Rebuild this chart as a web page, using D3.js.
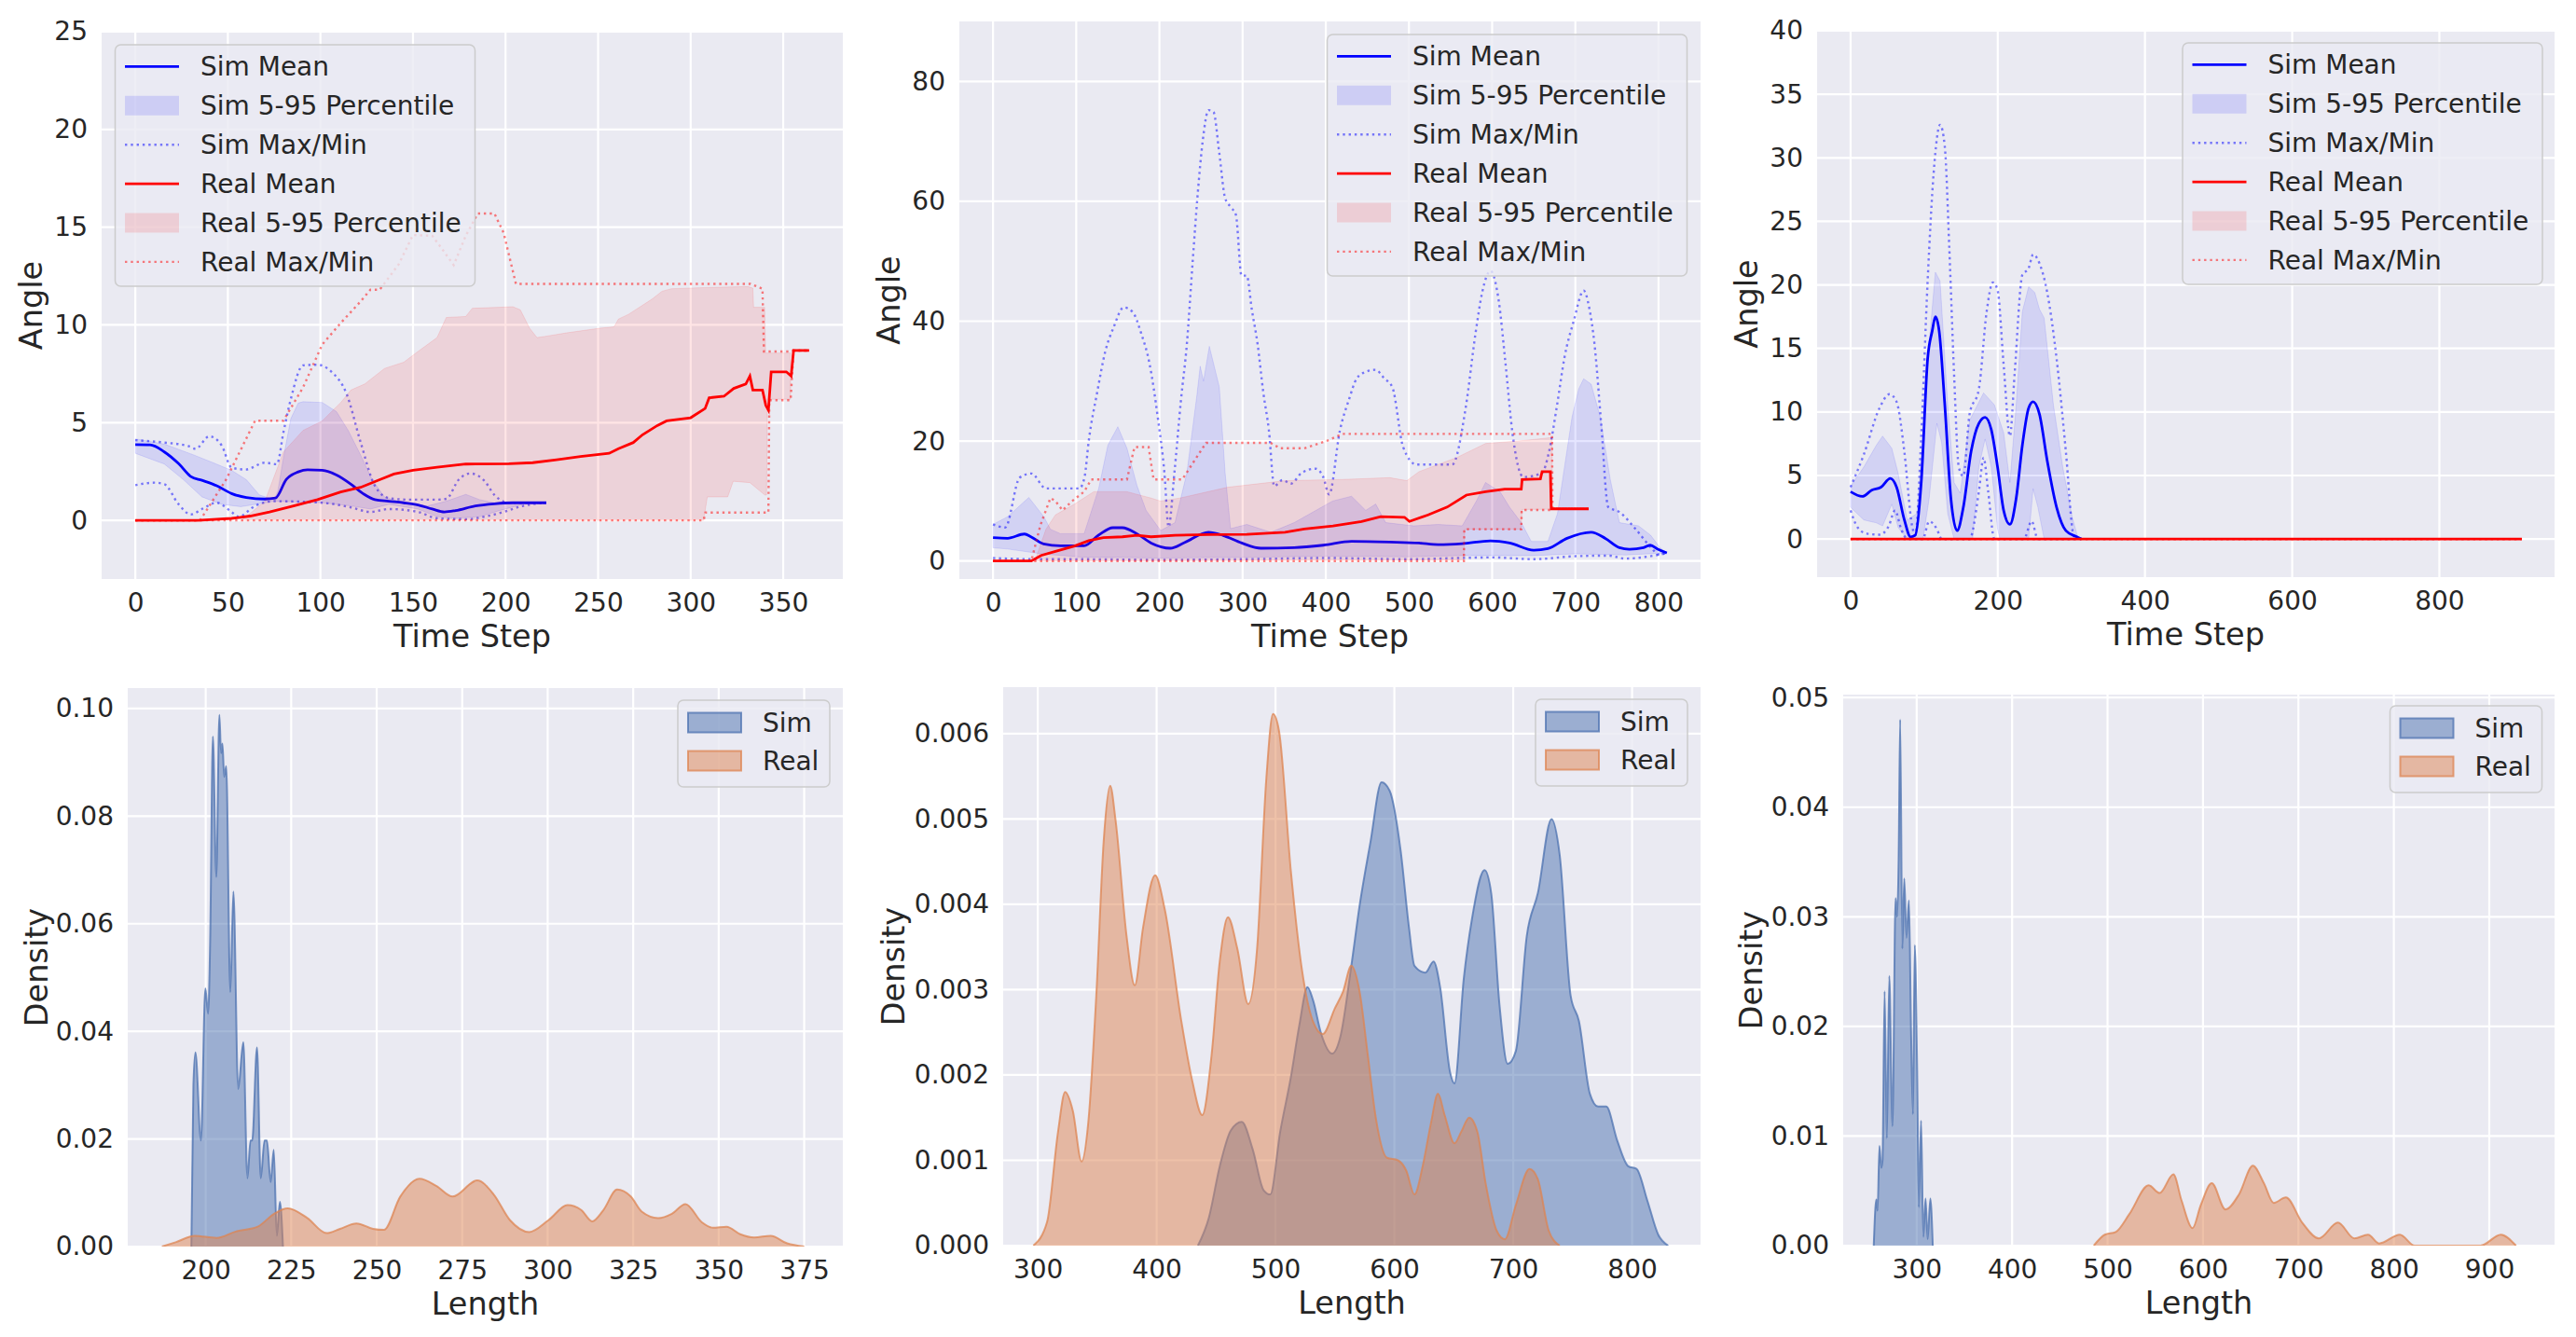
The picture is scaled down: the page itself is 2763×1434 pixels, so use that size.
<!DOCTYPE html>
<html><head><meta charset="utf-8">
<script src="https://cdn.jsdelivr.net/npm/d3@7"></script>
<style>
body{margin:0;background:#fff}
svg{display:block}
text{font-family:"DejaVu Sans",sans-serif;fill:#262626}
</style>
</head><body>
<svg id="c" width="2763" height="1434"></svg>
<script>
// ===================== DATA =====================
// --- Panel 1 (Angle vs Time Step) ---
const p1SimMean = [[0,3.87],[8,3.86],[15.7,3.5],[23.4,2.9],[30,2.24],[36,2.05],[44,1.77],[52,1.37],[60,1.17],[70,1.09],[75.7,1.14],[81.6,2.1],[88,2.48],[93,2.59],[101,2.56],[108.7,2.32],[116.5,1.85],[123,1.37],[129.4,1.06],[137,0.98],[145,0.9],[152.7,0.79],[160.4,0.58],[167,0.43],[173,0.5],[183.7,0.74],[194,0.85],[204,0.9],[222,0.9]];
const p1SimUpper = [[0,4.17],[15.7,3.9],[31.5,3.35],[42,2.95],[52,2.56],[60,2.08],[67,1.3],[75,1.06],[77,1.5],[80,3.2],[84,5.2],[88,6.0],[90.6,6.07],[101,6.03],[108.7,5.56],[115,4.6],[121.7,3.35],[128,2.08],[134.6,1.2],[142,0.98],[157.8,0.74],[168,0.98],[178.5,1.33],[186,1.06],[194,0.9],[222,0.9]];
const p1SimLower = [[0,3.43],[15.7,2.88],[26,2.08],[36,1.2],[46.7,0.82],[57,0.7],[67,0.85],[75,0.98],[85.5,0.95],[101,0.9],[116.5,0.74],[127,0.58],[137,0.82],[152.7,0.58],[163,0.19],[173,0.11],[186,0.19],[196.6,0.5],[209.5,0.82],[222,0.9]];
const p1SimMax = [[0,4.1],[15.7,3.98],[28.6,3.8],[32.5,3.66],[40,4.3],[46.7,3.82],[52,2.7],[59.6,2.6],[70,2.95],[76.5,2.87],[80,4.5],[84,6.2],[90.6,7.93],[98.4,7.96],[106,7.6],[114,6.5],[121.7,4.0],[129.4,1.77],[137,1.14],[147.5,1.06],[163,1.06],[168,1.1],[174.7,2.08],[181,2.4],[188.8,2.0],[194,1.3],[202,0.9],[222,0.9]];
const p1SimMin = [[0,1.8],[10.5,1.93],[15.7,1.85],[23.4,0.82],[30,0.3],[36,0.58],[44,0.9],[52,0.43],[55.7,0.19],[64.7,0.74],[75,0.98],[101,0.9],[116.5,0.66],[127,0.43],[137,0.58],[152.7,0.43],[163,0.11],[178.5,0.06],[188.8,0.19],[199,0.43],[209.5,0.74],[222,0.9]];
const p1RealMean = [[0,0],[33.8,0],[52,0.1],[62,0.22],[72.5,0.43],[85.5,0.74],[98.4,1.06],[111,1.45],[121.7,1.69],[132,2.08],[139.7,2.37],[150,2.56],[163,2.72],[178.5,2.88],[201.8,2.9],[214.7,2.95],[227.6,3.1],[240.5,3.27],[256,3.43],[261,3.67],[269,3.98],[274,4.38],[282,4.85],[287,5.09],[300,5.25],[307.8,5.72],[310,6.27],[318,6.35],[323.3,6.75],[329.8,6.98],[332,7.38],[333.6,6.67],[338.8,6.67],[340.6,5.88],[342,5.64],[343.5,7.6],[351.7,7.6],[354.3,7.38],[355.6,8.69],[364,8.69]];
const p1RealUpper = [[57,0],[60,0.19],[70,0.98],[80,3.5],[90.6,4.6],[101,5.09],[106,5.56],[111,6.03],[116.5,6.67],[124,6.98],[134.6,7.77],[145,8.09],[152.7,8.64],[163,9.35],[168,10.38],[178.5,10.43],[182,10.85],[196.6,10.9],[204,10.93],[208,10.77],[213,9.83],[217,9.35],[222.5,9.43],[232.8,9.59],[250.9,9.83],[258.6,9.9],[261,10.3],[266.4,10.54],[279.3,11.33],[284.5,11.72],[289.6,11.85],[307.8,11.91],[331,11.96],[333.6,11.88],[334,10.9],[340,10.9],[340.5,8.56],[354,8.56]];
const p1RealLower = [[57,0],[307,0],[309,1.2],[320,1.2],[323,2.0],[332,1.93],[340,1.3],[341,1.3],[341.5,6.2],[354,6.2]];
const p1RealMax = [[0,0],[35,0],[49,2.08],[64.7,5.1],[80,5.1],[90.6,6.8],[101,9.0],[111,10.1],[121.7,11.2],[127,11.8],[132,11.8],[142.3,13.1],[150,14.6],[160.4,14.56],[165.6,13.9],[172,13.06],[178.5,14.56],[185,15.7],[194,15.7],[199,14.7],[205.6,12.1],[332.3,12.1],[338.8,11.85],[339.6,8.64],[354,8.64],[355.6,8.69],[364,8.69]];
const p1RealMin = [[0,0],[307,0],[308,0.4],[342,0.4],[342.5,6.15],[354,6.15],[355.6,8.69],[364,8.69]];

// --- Panel 2 ---
const p2SimMean = [[0,3.9],[17.6,3.8],[37.7,4.5],[46,4.0],[60.7,2.85],[80.8,2.54],[109.5,2.54],[126.8,4.3],[144,5.55],[155.5,5.55],[172.8,4.56],[190,3.0],[213,2.13],[230,3.06],[259,4.8],[276,4.3],[299,3.0],[322,2.13],[362,2.23],[397,2.64],[431,3.27],[477,3.16],[512,3.0],[535,2.75],[564,2.9],[598,3.37],[621,3.0],[650,1.8],[667,2.07],[690,3.78],[719,4.8],[736,3.78],[753,2.23],[765,1.97],[782,2.23],[790,2.64],[799,1.97],[810,1.35]];
const p2SimUpper = [[0,6.1],[17.6,7.4],[43,10.6],[61,7.4],[69,5.3],[81,4.56],[109.5,4.56],[127,12.1],[138,19.3],[150,22.4],[161,18.8],[173,12.6],[184,8.45],[201.5,5.08],[218.7,6.4],[233,14.7],[245,27.6],[249,32.5],[253,30],[260,35.8],[265,33],[272,29],[279,14.7],[285.5,5.4],[305,6.1],[334,4.8],[362,6.4],[408,10],[431,10.8],[448,8.45],[460,9.5],[472,6.4],[506,5.86],[535,6.1],[564,5.86],[581,10],[592,13.1],[609.5,11.56],[621,8.97],[635,6.4],[647,3.27],[667,3.27],[678.5,7.9],[696,24],[704,28.7],[710,30.4],[719,29.5],[730,24],[742,13.6],[753,6.4],[776,5.86],[790.5,4.3],[802,2.2],[810,1.35]];
const p2SimLower = [[0,2.2],[17.6,2.0],[58,1.2],[104,0.67],[200,0.5],[300,0.6],[400,0.8],[500,0.7],[560,0.9],[650,0.9],[700,1.2],[760,1.0],[810,1.35]];
const p2SimMax = [[0,6.1],[14.6,5.6],[32,13.9],[46,14.6],[63.6,12.1],[103.8,12.1],[110,14],[115,20],[125,28],[135,35],[145,39],[157,42.3],[168,41.5],[178,38],[188,33],[198,24],[206,14.7],[211,5.7],[218,14.7],[226,27],[233,36.2],[240,50],[246,61.2],[252,70],[259,75.2],[265,74.9],[272,68],[279,60.5],[286,59],[292,57.7],[298.7,47.6],[305,47.6],[311,42],[318,36.2],[325,28],[331.6,21.8],[338,12.5],[348,13.5],[358,12.9],[371,14.7],[387.5,15.4],[397,14],[404,11.1],[417,21.8],[428,27],[437,30.4],[447,31.5],[460,31.9],[470,30.5],[480,29],[493,19],[509,16.1],[552,16.1],[568,25.4],[580,38],[588,44.8],[598,48.4],[608,43.3],[616,33],[624,21.8],[637.5,14],[660,14.7],[668,18],[678,26],[687,34],[698,40],[710,45.1],[717,42],[723,36.2],[731,23],[739.5,9],[752.6,8.2],[772,5.4],[792,2.1],[800,1.1],[810,1.35]];
const p2SimMin = [[0,0.5],[50,0.3],[100,0.3],[200,0.2],[300,0.3],[400,0.5],[500,0.3],[560,0.5],[600,0.6],[650,0.3],[700,0.8],[740,0.9],[760,0.4],[790,0.8],[810,1.35]];
const p2RealMean = [[0,0],[46,0],[57.8,0.93],[75,1.6],[98,2.5],[115,3.4],[132.5,3.9],[155.5,4.04],[172.8,4.3],[190,4.04],[218.7,4.3],[259,4.4],[305,4.46],[351,4.8],[374,5.34],[408.6,5.86],[443,6.6],[466,7.4],[494.6,7.3],[500.5,6.6],[523,7.7],[546,9.0],[569,11.0],[592,11.56],[615,12.0],[635,12.0],[636,13.6],[658,13.7],[660,14.9],[670,14.9],[671,8.7],[716,8.7]];
const p2RealUpper = [[50,0],[52,0.7],[63.6,5.3],[75,7.7],[98,9.5],[121,11.56],[161,11.56],[190,10.5],[201.5,10],[224.5,10.5],[282,12.3],[351,13.4],[420,13.6],[477,13.9],[497.5,13.4],[512,14.9],[558,17.3],[592,19.6],[638,20.1],[672,20.6],[672.5,8.7],[716,8.7]];
const p2RealLower = [[50,0],[566,0.2],[567,5.3],[635,5.3],[636,8.6],[716,8.7]];
const p2RealMax = [[0,0],[46,0],[57,6],[69,10.5],[75,10],[83.6,8.45],[95,10],[109.5,11.56],[118,13.6],[161,13.6],[170,19],[187,19],[193,13.6],[227.4,13.6],[256,19.7],[333.7,19.7],[345,18.8],[374,18.8],[402.6,20.1],[420,21.2],[672,21.2],[672.5,8.7],[716,8.7]];
const p2RealMin = [[0,0],[566,0],[566.5,5.3],[635,5.3],[635.5,8.5],[672,8.5],[672.5,8.7],[716,8.7]];

// --- Panel 3 ---
const p3SimMean = [[0,3.72],[16,3.35],[28.7,3.84],[41.4,4.08],[54,4.77],[62.5,4.08],[73,1.52],[81.5,0.17],[87.8,0.29],[96,4.45],[104.7,14.2],[111,16.4],[115.2,17.5],[120.3,16.4],[128,10.56],[136.3,3.2],[144.8,0.66],[153.2,2.5],[163.8,6.9],[174.3,9.1],[182.8,9.58],[191.2,8.6],[199.7,5.67],[208,2.25],[216.5,1.15],[225,3.2],[233.4,7.38],[241.9,10.3],[248,10.8],[256.6,9.83],[267.2,6.16],[279.9,2.5],[292.5,0.66],[307.3,0.17],[313.6,0]];
const p3SimUpper = [[0,4.16],[18,5.67],[35,7.38],[43.5,8.1],[56,7.14],[64.6,5.18],[77,1.5],[90,2.0],[98.4,8.1],[106.8,15.45],[115.2,21],[121.6,20.3],[132,10.56],[140.6,4.45],[149,3.6],[161.7,9.34],[180.7,11.5],[195.4,10.56],[208,8.36],[216.5,4.45],[225,10.56],[233.4,17.9],[241.9,19.85],[250.3,19.4],[256.6,18.1],[263,17.4],[275.6,10.56],[288.3,5.67],[301,1.76],[309.4,0]];
const p3SimLower = [[0,2.5],[18,1.5],[35,1.27],[43.5,1.03],[56,2.74],[64.6,0.9],[77,0],[98.4,0],[106.8,3.2],[117.3,9.1],[123.7,7.6],[132,2.0],[140.6,0],[165.9,0],[174.3,5.67],[182.8,7.87],[191.2,5.67],[199.7,0.78],[203,0],[241.9,0],[248,3.96],[254.5,2.5],[263,0],[309.4,0]];
const p3SimMax = [[0,4.08],[18,6.65],[39.3,10.3],[52.8,11.4],[62.5,10.8],[73,6.9],[83.6,1.03],[88,0.3],[96,8.1],[104.7,20.3],[113,28.9],[121.6,32.6],[128,30.9],[134.2,22.8],[140.6,13],[147,5.67],[153.2,4.94],[161.7,9.83],[174.3,11.8],[184.9,17.9],[193.3,20.2],[199.7,19.6],[208,13.7],[216.5,8.1],[222.9,13],[233.4,20.8],[241.9,21.3],[248,22.4],[256.6,21.7],[267.2,19.4],[279.9,14.2],[292.5,6.9],[303,0.3],[307.3,0]];
const p3SimMin = [[0,2.25],[9.7,0.9],[22.4,0.42],[39.3,0.34],[52,1.03],[60.4,2.25],[68.8,0.78],[77,0],[98,0],[106.8,1.39],[117.3,0.78],[123.7,0],[161.7,0],[174.3,3.72],[180.7,6.4],[187,3.72],[195.4,0],[235.5,0],[246,1.4],[254.5,0],[307.3,0]];
const p3RealMean = [[0,0],[912,0]];
const p3RealUpper = [[0,0],[912,0]];
const p3RealLower = [[0,0],[912,0]];
const p3RealMax = [[0,0],[912,0]];
const p3RealMin = [[0,0],[912,0]];

// --- Panel 4 (Density vs Length) ---
const p4Sim = [[195.8,0],[196.4,0.030],[197,0.0361],[198.6,0.0197],[199.9,0.048],[200.7,0.0433],[201.3,0.0567],[202.1,0.0948],[203.1,0.0687],[204,0.0988],[204.5,0.0917],[204.9,0.0935],[205.4,0.0873],[206,0.0893],[207.2,0.0473],[208.1,0.066],[209.5,0.0293],[211,0.038],[212.2,0.0127],[213.1,0.0197],[213.6,0.0197],[215,0.037],[216.1,0.0127],[217.2,0.0197],[217.9,0.0197],[219,0.012],[219.9,0.018],[220.8,0.002],[221.7,0.0083],[222.6,0]];
const p4Real = [[187.2,0],[191.2,0.0008],[196.8,0.002],[203.2,0.0016],[208.8,0.0028],[215.2,0.0037],[220,0.0061],[224,0.0071],[229.7,0.0053],[235.3,0.0025],[239.3,0.0033],[244.1,0.0043],[248.9,0.0033],[252.1,0.0031],[256.9,0.0093],[262.5,0.0126],[267.4,0.0113],[272.2,0.0093],[279.4,0.0123],[284.2,0.0097],[289,0.0049],[294.6,0.0027],[300.2,0.0049],[305.8,0.0077],[309.8,0.0068],[313,0.0047],[316.3,0.0068],[320.3,0.0106],[324.3,0.0093],[327.5,0.0065],[332.3,0.0053],[336.3,0.0061],[340.3,0.0079],[345.1,0.0045],[348.3,0.0035],[352.3,0.0037],[356.3,0.0023],[360.4,0.0017],[365.2,0.002],[370,0.0006],[375,0]];

// --- Panel 5 ---
const p5Sim = [[434.7,0],[443.9,0.000325],[453.1,0.00093],[462.4,0.00135],[471.6,0.00145],[480.8,0.00113],[490,0.00065],[495.6,0.0006],[503.9,0.00133],[513,0.00198],[520,0.00258],[526.9,0.00303],[531.5,0.00288],[538.5,0.00248],[547.7,0.00225],[554.6,0.00245],[563.8,0.00328],[570.7,0.00398],[579.9,0.00473],[589.2,0.00543],[596.1,0.00533],[605.3,0.00463],[612.3,0.00373],[616.9,0.00328],[626.1,0.0032],[633,0.00333],[638.5,0.00303],[646.9,0.00203],[650.6,0.0019],[658.4,0.00313],[665.3,0.00383],[675.9,0.0044],[681.5,0.00413],[688.4,0.00283],[695.3,0.00213],[702.2,0.00228],[711.4,0.00363],[720.7,0.00413],[732.2,0.005],[739.1,0.00458],[748.3,0.00293],[755.3,0.00263],[764.5,0.00178],[771.4,0.00163],[778.3,0.00163],[787.5,0.00123],[796.8,0.00093],[803.7,0.0009],[812.9,0.000525],[822.1,0.000125],[830.4,0]];
const p5Real = [[296.3,0],[307.8,0.000275],[317,0.00133],[323,0.0018],[329.5,0.00158],[336.9,0.000986],[342.4,0.00143],[349.4,0.00298],[355.4,0.00473],[360.9,0.00539],[365.5,0.00498],[374.7,0.00363],[381.6,0.00305],[388.6,0.00373],[398.7,0.00434],[407,0.00393],[420.8,0.00263],[430,0.00193],[438.4,0.00153],[446.2,0.00223],[453.1,0.00333],[460,0.00385],[467.9,0.00348],[477.1,0.00283],[484.5,0.00348],[492.3,0.00548],[497.9,0.00623],[503,0.00603],[513,0.00438],[522.3,0.00323],[531.5,0.00263],[539.8,0.00248],[549.9,0.00278],[556.9,0.00298],[563.8,0.00328],[570.7,0.00298],[577.7,0.00223],[584.6,0.00148],[593.8,0.00103],[603,0.001],[610,0.00088],[616.9,0.0006],[623.8,0.00093],[630.7,0.00143],[636.7,0.00178],[642.3,0.00153],[650.6,0.0012],[656.1,0.00133],[663,0.0015],[669.9,0.00133],[676.8,0.00073],[686.1,0.000175],[693,0.000075],[702.2,0.000475],[713.7,0.0009],[720.7,0.00078],[729.9,0.000175],[739.1,0]];

// --- Panel 6 ---
const p6Sim = [[255,0],[257.7,0.0042],[259,0.0032],[261,0.0091],[262.9,0.0071],[264.2,0.0078],[266.4,0.0232],[268.7,0.0098],[271.3,0.0246],[274.6,0.0109],[277.9,0.0317],[279.5,0.03],[281.1,0.0353],[282.7,0.048],[285,0.0271],[287,0.0335],[289.3,0.0281],[291.9,0.0315],[294.1,0.0196],[296.1,0.012],[298,0.0274],[300.5,0.016],[302.3,0.0035],[304.6,0.0114],[307,0.0008],[309.3,0.0043],[311.5,0.0006],[314.3,0.0043],[316.9,0]];
const p6Real = [[485.6,0],[497.1,0.001],[508.6,0.00125],[523,0.0029],[543.1,0.0055],[554.6,0.0048],[569,0.0065],[577.6,0.0041],[589.1,0.0016],[597.7,0.0037],[609.2,0.0057],[623.6,0.0033],[637.9,0.0047],[652.3,0.0073],[663.8,0.0057],[674.1,0.0039],[686.8,0.0044],[704,0.0021],[721.3,0.00066],[741.4,0.0021],[758.6,0.00066],[773,0.001],[784.5,0.0002],[806.3,0.001],[821.8,0],[890.8,0],[912.1,0.001],[928,0]];

// Ticks
const p1XTicks = [0,50,100,150,200,250,300,350], p1YTicks = [0,5,10,15,20,25];
const p2XTicks = [0,100,200,300,400,500,600,700,800], p2YTicks = [0,20,40,60,80];
const p3XTicks = [0,200,400,600,800], p3YTicks = [0,5,10,15,20,25,30,35,40];
const p4XTicks = [200,225,250,275,300,325,350,375], p4YTicks = [0,0.02,0.04,0.06,0.08,0.10];
const p5XTicks = [300,400,500,600,700,800], p5YTicks = [0,0.001,0.002,0.003,0.004,0.005,0.006];
const p6XTicks = [300,400,500,600,700,800,900], p6YTicks = [0,0.01,0.02,0.03,0.04,0.05];

const angleLegend = ["Sim Mean","Sim 5-95 Percentile","Sim Max/Min","Real Mean","Real 5-95 Percentile","Real Max/Min"];
const densLegend = ["Sim","Real"];

// ===================== DRAWING =====================
const svg = d3.select('#c');
svg.append('rect').attr('width',2763).attr('height',1434).attr('fill','#ffffff');
const BG = '#EAEAF2';
const TICK_FS = 28, LABEL_FS = 33.5;
let clipId = 0;

function frame(box, xDom, yDom, xTicks, yTicks, yFmt, xLabel, yLabel, yLabelX){
  const g = svg.append('g');
  const x = d3.scaleLinear().domain(xDom).range([box.l, box.r]);
  const y = d3.scaleLinear().domain(yDom).range([box.b, box.t]);
  g.append('rect').attr('x',box.l).attr('y',box.t).attr('width',box.r-box.l).attr('height',box.b-box.t).attr('fill',BG);
  const grid = g.append('g');
  xTicks.forEach(t=>grid.append('line').attr('x1',x(t)).attr('x2',x(t)).attr('y1',box.t).attr('y2',box.b).attr('stroke','#fff').attr('stroke-width',2.2));
  yTicks.forEach(t=>grid.append('line').attr('x1',box.l).attr('x2',box.r).attr('y1',y(t)).attr('y2',y(t)).attr('stroke','#fff').attr('stroke-width',2.2));
  const ax = g.append('g').attr('transform',`translate(0,${box.b})`)
    .call(d3.axisBottom(x).tickValues(xTicks).tickSize(0).tickPadding(15).tickFormat(d3.format('d')));
  const ay = g.append('g').attr('transform',`translate(${box.l},0)`)
    .call(d3.axisLeft(y).tickValues(yTicks).tickSize(0).tickPadding(15).tickFormat(yFmt));
  [ax,ay].forEach(a=>{a.select('.domain').remove(); a.attr('font-family',null).attr('font-size',null);
    a.selectAll('text').attr('font-size',TICK_FS).style('fill','#262626');});
  g.append('text').attr('x',(box.l+box.r)/2).attr('y',box.b+73).attr('text-anchor','middle').attr('font-size',LABEL_FS).text(xLabel);
  g.append('text').attr('transform',`translate(${yLabelX},${(box.t+box.b)/2}) rotate(-90)`).attr('text-anchor','middle').attr('dy','0.35em').attr('font-size',LABEL_FS).text(yLabel);
  const id = 'clip'+(clipId++);
  svg.append('clipPath').attr('id',id).append('rect').attr('x',box.l).attr('y',box.t).attr('width',box.r-box.l).attr('height',box.b-box.t);
  const data = svg.append('g').attr('clip-path',`url(#${id})`);
  return {x,y,data};
}

function angleChart(o){
  const {x,y,data} = frame(o.box,o.xDom,o.yDom,o.xTicks,o.yTicks,d3.format('d'),'Time Step','Angle',o.box.l-75.5);
  const line = d3.line().x(d=>x(d[0])).y(d=>y(d[1]));
  const smooth = d3.line().x(d=>x(d[0])).y(d=>y(d[1])).curve(d3.curveMonotoneX);
  const band = (up,lo,color)=>data.append('path').attr('d',line(up.concat(lo.slice().reverse()))+'Z')
      .attr('fill',color).attr('fill-opacity',0.1).attr('stroke',color).attr('stroke-opacity',0.1).attr('stroke-width',1);
  const solid = (arr,color,c)=>data.append('path').attr('d',(c?smooth:line)(arr)).attr('fill','none').attr('stroke',color).attr('stroke-width',2.8);
  const dotted = (arr,color,c)=>data.append('path').attr('d',(c?smooth:line)(arr)).attr('fill','none').attr('stroke',color).attr('stroke-opacity',0.5).attr('stroke-width',2.4).attr('stroke-dasharray','2.4,3.9');
  solid(o.simMean,'#0000ff',true);
  band(o.simUpper,o.simLower,'#0000ff');
  dotted(o.simMax,'#0000ff',true);
  dotted(o.simMin,'#0000ff',true);
  solid(o.realMean,'#ff0000',false);
  band(o.realUpper,o.realLower,'#ff0000');
  dotted(o.realMax,'#ff0000',false);
  dotted(o.realMin,'#ff0000',false);
  // legend
  const L = svg.append('g').attr('transform',`translate(${o.leg[0]},${o.leg[1]})`);
  L.append('rect').attr('width',386).attr('height',259).attr('rx',6).attr('fill',BG).attr('fill-opacity',0.8).attr('stroke','#cccccc').attr('stroke-width',1.5);
  angleLegend.forEach((name,i)=>{
    const cy = 23.4 + i*41.9;
    const col = i<3 ? '#0000ff' : '#ff0000';
    const kind = i%3;
    if(kind===0) L.append('line').attr('x1',10.5).attr('x2',68.5).attr('y1',cy).attr('y2',cy).attr('stroke',col).attr('stroke-width',2.8);
    else if(kind===1) L.append('rect').attr('x',10.5).attr('y',cy-10.5).attr('width',58).attr('height',21).attr('fill',col).attr('fill-opacity',0.12);
    else L.append('line').attr('x1',10.5).attr('x2',68.5).attr('y1',cy).attr('y2',cy).attr('stroke',col).attr('stroke-opacity',0.5).attr('stroke-width',2.4).attr('stroke-dasharray','2.4,3.9');
    L.append('text').attr('x',91.5).attr('y',cy).attr('dy','0.35em').attr('font-size',TICK_FS).text(name);
  });
}

function densChart(o){
  const {x,y,data} = frame(o.box,o.xDom,o.yDom,o.xTicks,o.yTicks,d3.format(o.fmt),'Length','Density',o.yLabelX);
  const area = d3.area().x(d=>x(d[0])).y0(y(0)).y1(d=>y(d[1])).curve(d3.curveMonotoneX);
  const edge = d3.line().x(d=>x(d[0])).y(d=>y(d[1])).curve(d3.curveMonotoneX);
  [[o.sim,'#4C72B0'],[o.real,'#DD8452']].forEach(([arr,col])=>{
    data.append('path').attr('d',area(arr)).attr('fill',col).attr('fill-opacity',0.5);
    data.append('path').attr('d',edge(arr)).attr('fill','none').attr('stroke',col).attr('stroke-opacity',0.75).attr('stroke-width',2);
  });
  const L = svg.append('g').attr('transform',`translate(${o.leg[0]},${o.leg[1]})`);
  L.append('rect').attr('width',163).attr('height',93).attr('rx',6).attr('fill',BG).attr('fill-opacity',0.8).attr('stroke','#cccccc').attr('stroke-width',1.5);
  densLegend.forEach((name,i)=>{
    const cy = 24 + i*41;
    const col = i===0 ? '#4C72B0' : '#DD8452';
    L.append('rect').attr('x',11).attr('y',cy-10.5).attr('width',57).attr('height',21).attr('fill',col).attr('fill-opacity',0.5).attr('stroke',col).attr('stroke-opacity',0.75).attr('stroke-width',2);
    L.append('text').attr('x',91).attr('y',cy).attr('dy','0.35em').attr('font-size',TICK_FS).text(name);
  });
}

angleChart({box:{l:109,r:904,t:34,b:621},xDom:[-18.2,382.2],yDom:[-3,25],xTicks:p1XTicks,yTicks:p1YTicks,
  simMean:p1SimMean,simUpper:p1SimUpper,simLower:p1SimLower,simMax:p1SimMax,simMin:p1SimMin,
  realMean:p1RealMean,realUpper:p1RealUpper,realLower:p1RealLower,realMax:p1RealMax,realMin:p1RealMin,leg:[123.5,48]});
angleChart({box:{l:1029,r:1824,t:23,b:621},xDom:[-40.5,850.5],yDom:[-3,90],xTicks:p2XTicks,yTicks:p2YTicks,
  simMean:p2SimMean,simUpper:p2SimUpper,simLower:p2SimLower,simMax:p2SimMax,simMin:p2SimMin,
  realMean:p2RealMean,realUpper:p2RealUpper,realLower:p2RealLower,realMax:p2RealMax,realMin:p2RealMin,leg:[1423.5,37]});
angleChart({box:{l:1949,r:2740,t:33,b:619},xDom:[-45.5,956.5],yDom:[-3,40],xTicks:p3XTicks,yTicks:p3YTicks,
  simMean:p3SimMean,simUpper:p3SimUpper,simLower:p3SimLower,simMax:p3SimMax,simMin:p3SimMin,
  realMean:p3RealMean,realUpper:p3RealUpper,realLower:p3RealLower,realMax:p3RealMax,realMin:p3RealMin,leg:[2341,46]});

densChart({box:{l:137,r:904,t:738,b:1337},xDom:[177.2,386.3],yDom:[0,0.1038],xTicks:p4XTicks,yTicks:p4YTicks,fmt:'.2f',
  sim:p4Sim,real:p4Real,leg:[727,751],yLabelX:39});
densChart({box:{l:1076,r:1824,t:737,b:1336},xDom:[270.9,857.6],yDom:[0,0.006545],xTicks:p5XTicks,yTicks:p5YTicks,fmt:'.3f',
  sim:p5Sim,real:p5Real,leg:[1647,750],yLabelX:958});
densChart({box:{l:1977,r:2740,t:745,b:1336},xDom:[223,968.4],yDom:[0,0.05027],xTicks:p6XTicks,yTicks:p6YTicks,fmt:'.2f',
  sim:p6Sim,real:p6Real,leg:[2563.5,757],yLabelX:1878});
</script>
</body></html>
